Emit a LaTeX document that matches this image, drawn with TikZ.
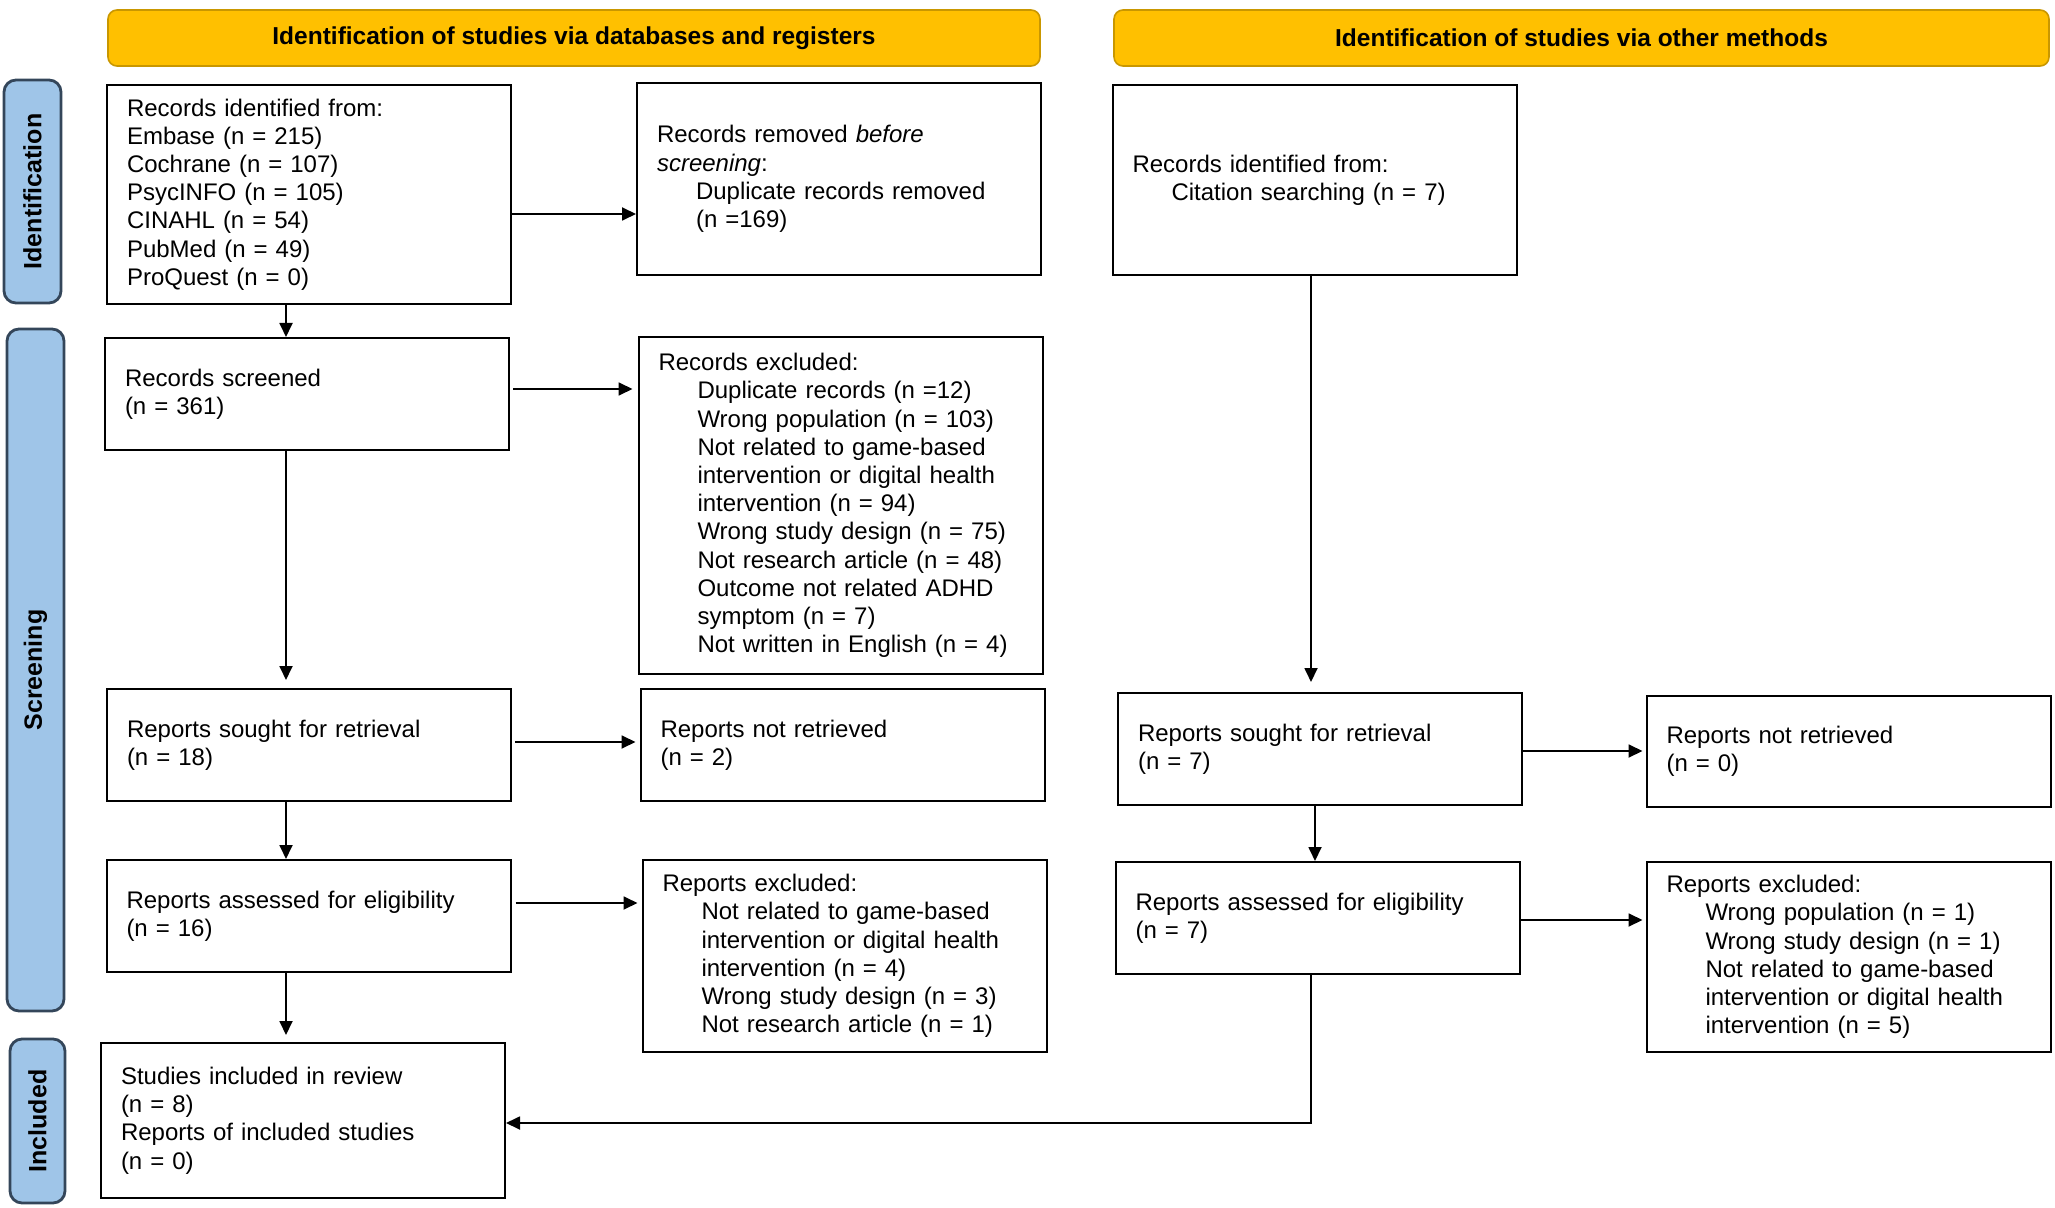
\documentclass[tikz,border=0pt]{standalone}
\usepackage{fontspec}
\setmainfont{Liberation Sans}
\usetikzlibrary{arrows.meta,calc}
\definecolor{hdrfill}{HTML}{FFC000}
\definecolor{hdrline}{HTML}{C99700}
\definecolor{sidefill}{HTML}{9FC5E8}
\definecolor{sideline}{HTML}{34465A}
\newcommand{\ind}{\hspace*{19.5pt}}
\begin{document}
\begin{tikzpicture}[x=0.5pt,y=-0.5pt,
  every node/.style={font=\fontsize{12}{14.1}\selectfont},
  box/.style={draw=black, line width=1pt, text width=182pt, inner xsep=10pt, inner ysep=0pt, align=left},
  hdr/.style={draw=hdrline, line width=0.8pt, fill=hdrfill, rounded corners=4.5pt, minimum height=28pt, inner sep=0pt, font=\bfseries\fontsize{12.25}{14}\selectfont},
  side/.style={draw=sideline, line width=1.4pt, fill=sidefill, rounded corners=6pt, rotate=90, inner sep=0pt, font=\bfseries\fontsize{12.5}{14}\selectfont},
  arr/.style={-{Triangle[length=7pt,width=6.5pt]}, line width=0.9pt}]
\useasboundingbox (0,0) rectangle (2055,1208);

% headers
\node[hdr, minimum width=466pt] (h1) at (574,38) {Identification of studies via databases and registers};
\node[hdr, minimum width=467.5pt] (h2) at (1581.5,38) {Identification of studies via other methods};

% side labels
\node[side, minimum width=111.5pt, minimum height=28.5pt] (s1) at (32.5,191.5) {Identification};
\node[side, minimum width=341pt, minimum height=28.5pt] (s2) at (35.5,670) {Screening};
\node[side, minimum width=82pt, minimum height=27.5pt] (s3) at (37.5,1121) {Included};

% boxes
\node[box, minimum height=109.5pt] (A) at (309,194.5) {Records identified from:\\Embase (n = 215)\\Cochrane (n = 107)\\PsycINFO (n = 105)\\CINAHL (n = 54)\\PubMed (n = 49)\\ProQuest (n = 0)};
\node[box, minimum height=96pt] (B) at (839,179) {Records removed \emph{before}\\\emph{screening}:\\\ind Duplicate records removed\\\ind (n =169)};
\node[box, minimum height=95pt] (C) at (1314.5,180.5) {Records identified from:\\\ind Citation searching (n = 7)};
\node[box, minimum height=56pt] (D) at (307,394) {Records screened\\(n = 361)};
\node[box, minimum height=168.5pt] (E) at (840.5,505.5) {Records excluded:\\\ind Duplicate records (n =12)\\\ind Wrong population (n = 103)\\\ind Not related to game-based\\\ind intervention or digital health\\\ind intervention (n = 94)\\\ind Wrong study design (n = 75)\\\ind Not research article (n = 48)\\\ind Outcome not related ADHD\\\ind symptom (n = 7)\\\ind Not written in English (n = 4)};
\node[box, minimum height=56pt] (F) at (309,745) {Reports sought for retrieval\\(n = 18)};
\node[box, minimum height=56pt] (G) at (842.5,745) {Reports not retrieved\\(n = 2)};
\node[box, minimum height=56pt] (H) at (1320,749) {Reports sought for retrieval\\(n = 7)};
\node[box, minimum height=55.5pt] (I) at (1848.5,751.5) {Reports not retrieved\\(n = 0)};
\node[box, minimum height=56pt] (J) at (308.5,916) {Reports assessed for eligibility\\(n = 16)};
\node[box, minimum height=96pt] (K) at (844.5,956) {Reports excluded:\\\ind Not related to game-based\\\ind intervention or digital health\\\ind intervention (n = 4)\\\ind Wrong study design (n = 3)\\\ind Not research article (n = 1)};
\node[box, minimum height=56pt] (L) at (1317.5,918) {Reports assessed for eligibility\\(n = 7)};
\node[box, minimum height=95pt] (M) at (1848.5,957) {Reports excluded:\\\ind Wrong population (n = 1)\\\ind Wrong study design (n = 1)\\\ind Not related to game-based\\\ind intervention or digital health\\\ind intervention (n = 5)};
\node[box, minimum height=77.5pt] (N) at (303,1120.5) {Studies included in review\\(n = 8)\\Reports of included studies\\(n = 0)};

% guide coordinates
\coordinate (cL) at (286,0);
\coordinate (cR) at (1311,0);
\coordinate (cR2) at (1315,0);
\coordinate (rAB) at (0,214);
\coordinate (rDE) at (0,389);
\coordinate (rFG) at (0,742);
\coordinate (rJK) at (0,903);
\coordinate (rHI) at (0,751);
\coordinate (rLM) at (0,920);
\coordinate (rN) at (0,1123);

% vertical arrows
\draw[arr] (A.south -| cL) -- (D.north -| cL);
\draw[arr, shorten >=4pt] (D.south -| cL) -- (F.north -| cL);
\draw[arr] (F.south -| cL) -- (J.north -| cL);
\draw[arr, shorten >=3.5pt] (J.south -| cL) -- (N.north -| cL);
\draw[arr, shorten >=5pt] (C.south -| cR) -- (H.north -| cR);
\draw[arr] (H.south -| cR2) -- (L.north -| cR2);
\draw[arr] (L.south -| cR) |- (N.east |- rN);

% horizontal arrows
\draw[arr] (A.east |- rAB) -- (B.west |- rAB);
\draw[arr, shorten <=1.5pt, shorten >=2.5pt] (D.east |- rDE) -- (E.west |- rDE);
\draw[arr, shorten <=1.5pt, shorten >=2pt] (F.east |- rFG) -- (G.west |- rFG);
\draw[arr, shorten <=2pt, shorten >=2pt] (J.east |- rJK) -- (K.west |- rJK);
\draw[arr, shorten >=1.5pt] (H.east |- rHI) -- (I.west |- rHI);
\draw[arr, shorten >=1.5pt] (L.east |- rLM) -- (M.west |- rLM);
\end{tikzpicture}
\end{document}
